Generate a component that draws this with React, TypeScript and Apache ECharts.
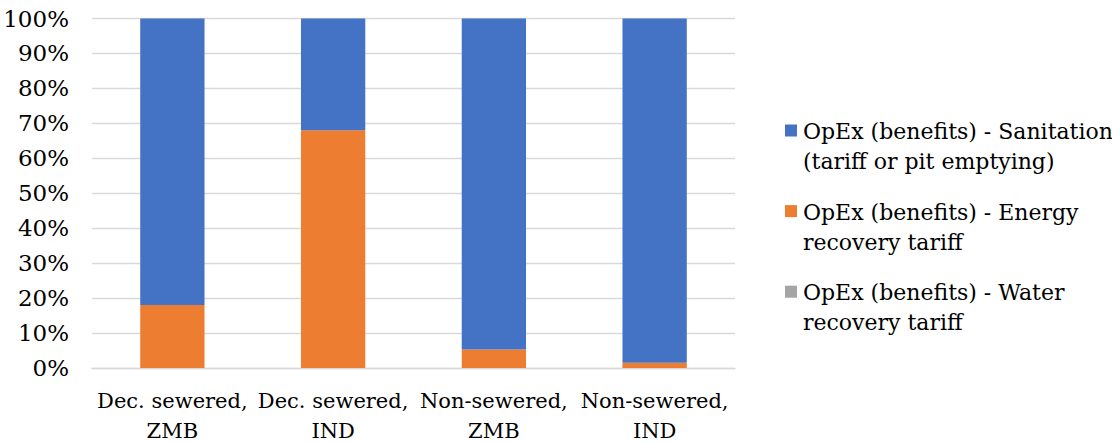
import { useEffect, useRef } from "react";
import * as echarts from "echarts";

// Share of operating benefits by source, per configuration
const categories = [
  "Dec. sewered,\nZMB",
  "Dec. sewered,\nIND",
  "Non-sewered,\nZMB",
  "Non-sewered,\nIND",
];
const sanitation = [82, 32, 94.7, 98.5];
const energy = [18, 68, 5.3, 1.5];
const water = [0, 0, 0, 0];

const sanitationName = "OpEx (benefits) - Sanitation\n(tariff or pit emptying)";
const energyName = "OpEx (benefits) - Energy\nrecovery tariff";
const waterName = "OpEx (benefits) - Water\nrecovery tariff";

const sanitationColor = "#4472C4";
const energyColor = "#ED7D31";
const waterColor = "#A5A5A5";

const FONT = "DejaVu Serif";

export default function App() {
  const ref = useRef<HTMLDivElement>(null);

  useEffect(() => {
    if (!ref.current) return;
    const chart = echarts.init(ref.current, null, { renderer: "svg" });

    // legend, top to bottom: square swatch + two-line label
    const legendItems = [
      { name: sanitationName, color: sanitationColor },
      { name: energyName, color: energyColor },
      { name: waterName, color: waterColor },
    ];
    const legendGraphics = legendItems.flatMap((item, i) => [
      {
        type: "rect",
        shape: { x: 785, y: 124.5 + 80.6 * i, width: 12, height: 12 },
        style: { fill: item.color },
        silent: true,
      },
      {
        type: "text",
        x: 803,
        y: 116.5 + 80.6 * i,
        style: {
          text: item.name,
          fill: "#000",
          font: "22px 'DejaVu Serif'",
          lineHeight: 30,
          verticalAlign: "top",
          align: "left",
        },
        silent: true,
      },
    ]);

    const barCommon = {
      type: "bar" as const,
      stack: "total",
      barWidth: "40%",
    };

    chart.setOption({
      animation: false,
      backgroundColor: "#fff",
      grid: {
        left: 92,
        right: 377,
        top: 18.5,
        bottom: 75,
        containLabel: false,
        outerBoundsMode: "none",
      },
      xAxis: {
        type: "category",
        data: categories,
        axisLine: { show: true, lineStyle: { color: "#d9d9d9", width: 1.3 } },
        axisTick: { show: false },
        axisLabel: {
          interval: 0,
          margin: 18,
          color: "#000",
          fontFamily: FONT,
          fontSize: 21,
          lineHeight: 30,
        },
      },
      yAxis: {
        type: "value",
        min: 0,
        max: 100,
        interval: 10,
        axisLine: { show: false },
        axisTick: { show: false },
        axisLabel: {
          margin: 23,
          color: "#000",
          fontFamily: FONT,
          fontSize: 23,
          formatter: "{value}%",
        },
        splitLine: { lineStyle: { color: "#d9d9d9", width: 1.3 } },
      },
      series: [
        { ...barCommon, name: waterName, data: water, itemStyle: { color: waterColor } },
        { ...barCommon, name: energyName, data: energy, itemStyle: { color: energyColor } },
        { ...barCommon, name: sanitationName, data: sanitation, itemStyle: { color: sanitationColor } },
      ],
      graphic: legendGraphics,
    });

    return () => chart.dispose();
  }, []);

  return (
    <div
      ref={ref}
      style={{ position: "fixed", left: 0, top: 0, width: 1112, height: 443, background: "#fff" }}
    />
  );
}
